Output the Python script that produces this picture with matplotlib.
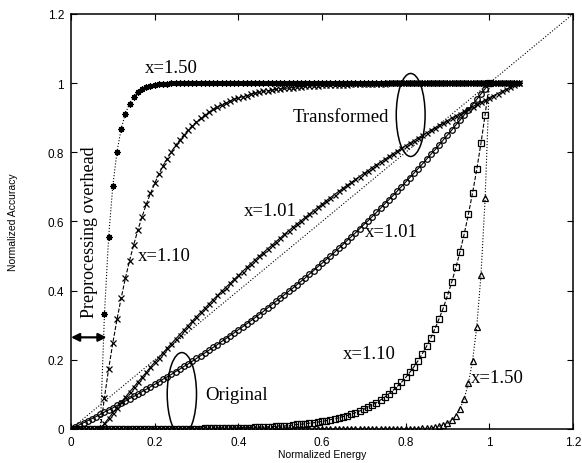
import numpy as np
import matplotlib
matplotlib.use("Agg")
import matplotlib.pyplot as plt
from matplotlib.patches import Ellipse

plt.rcParams["font.family"] = ["Liberation Sans", "DejaVu Sans"]

# normalized energy grid (101 samples) and preprocessing overhead
energy = np.linspace(0, 1, 101)
overhead = 0.07

# original curves (energy 0 -> 1)
orig_101 = [
    0.000, 0.006, 0.012, 0.018, 0.024, 0.030, 0.036, 0.042, 0.049, 0.055,
    0.061, 0.068, 0.074, 0.081, 0.088, 0.094, 0.101, 0.108, 0.115, 0.122,
    0.129, 0.136, 0.144, 0.151, 0.158, 0.166, 0.173, 0.181, 0.188, 0.196,
    0.204, 0.212, 0.220, 0.228, 0.236, 0.244, 0.253, 0.261, 0.270, 0.278,
    0.287, 0.295, 0.304, 0.313, 0.322, 0.331, 0.340, 0.350, 0.359, 0.369,
    0.378, 0.388, 0.398, 0.407, 0.417, 0.427, 0.437, 0.448, 0.458, 0.469,
    0.479, 0.490, 0.500, 0.511, 0.522, 0.533, 0.545, 0.556, 0.567, 0.579,
    0.591, 0.602, 0.614, 0.626, 0.638, 0.651, 0.663, 0.675, 0.688, 0.701,
    0.714, 0.727, 0.740, 0.753, 0.766, 0.780, 0.794, 0.807, 0.821, 0.836,
    0.850, 0.864, 0.879, 0.893, 0.908, 0.923, 0.938, 0.953, 0.969, 0.984,
    1.000,
]
orig_110 = [
    0.000, 0.000, 0.000, 0.000, 0.000, 0.000, 0.000, 0.000, 0.000, 0.000,
    0.000, 0.000, 0.000, 0.000, 0.000, 0.000, 0.000, 0.000, 0.000, 0.000,
    0.000, 0.000, 0.000, 0.000, 0.000, 0.000, 0.001, 0.001, 0.001, 0.001,
    0.001, 0.001, 0.002, 0.002, 0.002, 0.002, 0.002, 0.002, 0.003, 0.003,
    0.003, 0.004, 0.004, 0.004, 0.005, 0.005, 0.006, 0.006, 0.007, 0.008,
    0.009, 0.009, 0.010, 0.011, 0.013, 0.014, 0.015, 0.017, 0.018, 0.020,
    0.022, 0.024, 0.027, 0.029, 0.032, 0.036, 0.039, 0.043, 0.047, 0.052,
    0.057, 0.063, 0.069, 0.076, 0.084, 0.092, 0.102, 0.112, 0.123, 0.135,
    0.149, 0.164, 0.180, 0.198, 0.218, 0.239, 0.263, 0.290, 0.319, 0.350,
    0.386, 0.424, 0.467, 0.513, 0.564, 0.621, 0.683, 0.751, 0.826, 0.909,
    1.000,
]
orig_150 = [0.000] * 83 + [
    0.001, 0.002, 0.002, 0.003, 0.005, 0.008, 0.012, 0.017, 0.026,
    0.039, 0.059, 0.088, 0.132, 0.198, 0.296, 0.444, 0.667, 1.000,
]

# transformed curves (energy shifted by the preprocessing overhead)
trans_101 = [
    0.000, 0.016, 0.031, 0.047, 0.062, 0.077, 0.092, 0.107, 0.121, 0.136,
    0.150, 0.164, 0.179, 0.193, 0.206, 0.220, 0.234, 0.247, 0.260, 0.273,
    0.286, 0.299, 0.312, 0.325, 0.337, 0.349, 0.362, 0.374, 0.386, 0.398,
    0.409, 0.421, 0.433, 0.444, 0.455, 0.467, 0.478, 0.489, 0.500, 0.510,
    0.521, 0.531, 0.542, 0.552, 0.563, 0.573, 0.583, 0.593, 0.602, 0.612,
    0.622, 0.631, 0.641, 0.650, 0.660, 0.669, 0.678, 0.687, 0.696, 0.705,
    0.713, 0.722, 0.730, 0.739, 0.747, 0.756, 0.764, 0.772, 0.780, 0.788,
    0.796, 0.804, 0.812, 0.819, 0.827, 0.834, 0.842, 0.849, 0.856, 0.864,
    0.871, 0.878, 0.885, 0.892, 0.899, 0.906, 0.912, 0.919, 0.926, 0.932,
    0.939, 0.945, 0.951, 0.958, 0.964, 0.970, 0.976, 0.982, 0.988, 0.994,
    1.000,
]
trans_110 = [
    0.000, 0.091, 0.174, 0.249, 0.317, 0.379, 0.436, 0.487, 0.533, 0.576,
    0.614, 0.650, 0.681, 0.710, 0.737, 0.761, 0.782, 0.802, 0.820, 0.836,
    0.851, 0.865, 0.877, 0.888, 0.898, 0.908, 0.916, 0.924, 0.931, 0.937,
    0.943, 0.948, 0.953, 0.957, 0.961, 0.964, 0.968, 0.971, 0.973, 0.976,
    0.978, 0.980, 0.982, 0.983, 0.985, 0.986, 0.987, 0.989, 0.990, 0.991,
    0.991, 0.992, 0.993, 0.994, 0.994, 0.995, 0.995, 0.996, 0.996, 0.996,
    0.997, 0.997, 0.997, 0.998, 0.998, 0.998, 0.998, 0.998, 0.998, 0.999,
    0.999, 0.999, 0.999, 0.999, 0.999,
] + [1.000] * 26
trans_150 = [
    0.000, 0.333, 0.556, 0.704, 0.802, 0.868, 0.912, 0.941, 0.961, 0.974,
    0.983, 0.988, 0.992, 0.995, 0.997, 0.998, 0.998, 0.999,
] + [1.000] * 83

fig = plt.figure(figsize=(5.82, 4.64), dpi=100)
ax = fig.add_axes([0.122, 0.0733, 0.8625, 0.8944])

lw = 0.8
common = dict(color="black", linewidth=lw, markeredgewidth=0.9, fillstyle="none")

# transformed
ax.plot(energy + overhead, trans_150, linestyle=":", marker=(8, 2, 0), markersize=4.5, **common)
ax.plot(energy + overhead, trans_110, linestyle="--", marker="x", markersize=4.0, **common)
ax.plot(energy + overhead, trans_101, linestyle="-", marker="x", markersize=3.6, **common)
# original
ax.plot(energy, orig_101, linestyle="-", marker="o", markersize=4.0, **common)
ax.plot(energy, orig_110, linestyle="--", marker="s", markersize=4.0, **common)
ax.plot(energy, orig_150, linestyle=":", marker="^", markersize=3.8, **common)

# reference diagonal
ax.axline((0, 0), slope=1, color="black", linestyle=":", linewidth=lw)

ax.set_xlim(0, 1.2)
ax.set_ylim(0, 1.2)
ticks = [0, 0.2, 0.4, 0.6, 0.8, 1, 1.2]
ax.set_xticks(ticks)
ax.set_yticks(ticks)
ax.set_xticklabels(["0", "0.2", "0.4", "0.6", "0.8", "1", "1.2"])
ax.set_yticklabels(["0", "0.2", "0.4", "0.6", "0.8", "1", "1.2"])
ax.tick_params(direction="in", length=4.5, width=0.8, top=True, right=True,
               labelsize=8.5, pad=5)
for s in ax.spines.values():
    s.set_linewidth(1.1)

ax.set_xlabel("Normalized Energy", fontsize=7.5, labelpad=1)
ax.set_ylabel("Normalized Accuracy", fontsize=7.5, labelpad=21)

serif = dict(family=["Liberation Serif", "DejaVu Serif"], fontsize=13.5, ha="center", va="center")
ax.text(0.24, 1.046, "x=1.50", **serif)
ax.text(0.644, 0.903, "Transformed", **serif)
ax.text(0.476, 0.633, "x=1.01", **serif)
ax.text(0.766, 0.57, "x=1.01", **serif)
ax.text(0.222, 0.503, "x=1.10", **serif)
ax.text(0.395, 0.101, "Original", **serif)
ax.text(0.713, 0.217, "x=1.10", **serif)
ax.text(1.02, 0.149, "x=1.50", **serif)
ax.text(0.045, 0.573, "Preprocessing overhead", rotation=90,
        **{**serif, "fontsize": 13})

ax.add_patch(Ellipse((0.812, 0.908), 0.069, 0.24, fill=False, linewidth=1.1, color="black"))
ax.add_patch(Ellipse((0.265, 0.101), 0.07, 0.24, fill=False, linewidth=1.1, color="black"))

ax.annotate("", xy=(0.0, 0.265), xytext=(0.085, 0.265),
            arrowprops=dict(arrowstyle="<|-|>", color="black", lw=1.6, mutation_scale=12,
                            shrinkA=0, shrinkB=0))

fig.savefig("out.png", dpi=100)
